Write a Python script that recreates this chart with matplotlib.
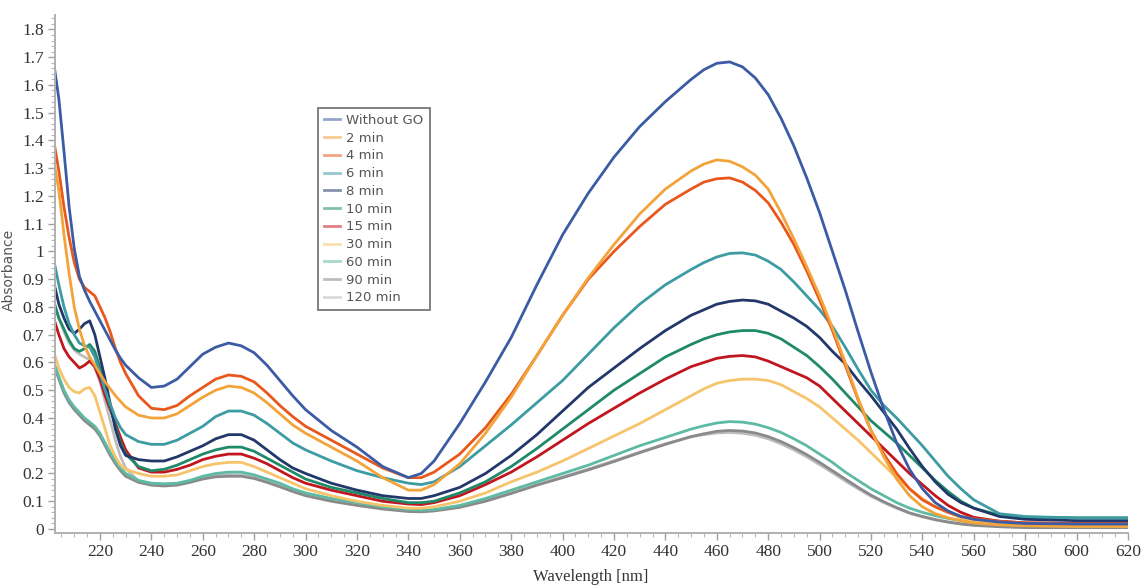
import matplotlib
matplotlib.use("Agg")
import matplotlib.pyplot as plt
from matplotlib.ticker import MultipleLocator, FormatStrFormatter, FuncFormatter

# Wavelength grid (nm) shared by every spectrum
wavelength = [202, 204, 206, 208, 210, 212, 214, 216, 218, 220, 222, 224, 226, 228, 230,
              235, 240, 245, 250, 255, 260, 265, 270, 275, 280, 285, 290, 295, 300,
              310, 320, 330, 340, 345, 350,
              360, 370, 380, 390, 400, 410, 420, 430, 440, 450,
              455, 460, 465, 470, 475, 480, 485, 490, 495, 500, 505, 510, 515, 520,
              525, 530, 535, 540, 545, 550, 555, 560, 570, 580, 600, 620]

labels = ["Without GO", "2 min", "4 min", "6 min", "8 min", "10 min",
          "15 min", "30 min", "60 min", "90 min", "120 min"]

colors = ["#3B5BA5", "#F2A33A", "#E8581C", "#3C9BA3", "#22386A", "#1F8A68",
          "#C2161F", "#F7C46C", "#5DBBA5", "#8A8A8A", "#BDBDBD"]

without_go = [1.68, 1.55, 1.36, 1.16, 1.01, 0.91, 0.86, 0.82, 0.785, 0.75, 0.715, 0.68, 0.645, 0.615, 0.59,
              0.545, 0.51, 0.515, 0.54, 0.585, 0.63, 0.655, 0.67, 0.66, 0.635, 0.59, 0.535, 0.48, 0.43,
              0.355, 0.295, 0.225, 0.185, 0.20, 0.245,
              0.38, 0.53, 0.69, 0.88, 1.06, 1.21, 1.34, 1.45, 1.54, 1.62,
              1.655, 1.678, 1.683, 1.665, 1.625, 1.565, 1.48, 1.38, 1.265, 1.14, 1.00, 0.86, 0.71, 0.565,
              0.43, 0.31, 0.215, 0.145, 0.095, 0.065, 0.045, 0.035, 0.025, 0.02, 0.018, 0.018]

min_2 = [1.33, 1.22, 1.06, 0.92, 0.80, 0.72, 0.66, 0.62, 0.59, 0.56, 0.53, 0.505, 0.48, 0.46, 0.44,
         0.41, 0.40, 0.40, 0.415, 0.445, 0.475, 0.50, 0.515, 0.51, 0.49, 0.455, 0.415, 0.375, 0.345,
         0.295, 0.245, 0.185, 0.14, 0.14, 0.16,
         0.235, 0.345, 0.475, 0.625, 0.77, 0.905, 1.025, 1.135, 1.225, 1.29,
         1.315, 1.33, 1.325, 1.305, 1.275, 1.225, 1.14, 1.045, 0.945, 0.84, 0.725, 0.60, 0.47, 0.355,
         0.26, 0.18, 0.12, 0.08, 0.055, 0.04, 0.03, 0.022, 0.015, 0.012, 0.01, 0.01]

min_4 = [1.40, 1.29, 1.16, 1.05, 0.96, 0.90, 0.87, 0.855, 0.84, 0.80, 0.76, 0.71, 0.65, 0.60, 0.56,
         0.48, 0.435, 0.43, 0.445, 0.48, 0.51, 0.54, 0.555, 0.55, 0.53, 0.49, 0.445, 0.405, 0.37,
         0.32, 0.27, 0.22, 0.185, 0.185, 0.205,
         0.27, 0.365, 0.485, 0.625, 0.77, 0.90, 1.00, 1.09, 1.17, 1.225,
         1.25, 1.262, 1.265, 1.25, 1.22, 1.175, 1.105, 1.025, 0.93, 0.825, 0.715, 0.59, 0.465, 0.355,
         0.27, 0.20, 0.145, 0.105, 0.08, 0.06, 0.045, 0.037, 0.028, 0.022, 0.02, 0.02]

min_6 = [0.97, 0.88, 0.80, 0.74, 0.70, 0.67, 0.66, 0.655, 0.62, 0.56, 0.50, 0.45, 0.40, 0.365, 0.34,
         0.315, 0.305, 0.305, 0.32, 0.345, 0.37, 0.405, 0.425, 0.425, 0.41, 0.38, 0.345, 0.31, 0.285,
         0.245, 0.21, 0.185, 0.165, 0.16, 0.17,
         0.225, 0.30, 0.375, 0.455, 0.535, 0.63, 0.725, 0.81, 0.88, 0.935,
         0.96, 0.98, 0.993, 0.995, 0.987, 0.965, 0.935, 0.89, 0.84, 0.79, 0.73, 0.655, 0.575, 0.50,
         0.445, 0.40, 0.35, 0.30, 0.245, 0.19, 0.145, 0.105, 0.055, 0.045, 0.04, 0.04]

min_8 = [0.89, 0.81, 0.76, 0.72, 0.705, 0.72, 0.74, 0.75, 0.70, 0.62, 0.54, 0.45, 0.36, 0.30, 0.265,
         0.25, 0.245, 0.245, 0.26, 0.28, 0.30, 0.325, 0.34, 0.34, 0.32, 0.285, 0.25, 0.22, 0.20,
         0.165, 0.14, 0.12, 0.11, 0.11, 0.12,
         0.15, 0.20, 0.265, 0.34, 0.425, 0.51, 0.58, 0.65, 0.715, 0.77,
         0.79, 0.81, 0.82, 0.825, 0.822, 0.81, 0.785, 0.76, 0.73, 0.69, 0.64, 0.595, 0.535, 0.48,
         0.42, 0.36, 0.29, 0.225, 0.17, 0.125, 0.095, 0.075, 0.045, 0.035, 0.03, 0.03]

min_10 = [0.82, 0.76, 0.72, 0.68, 0.65, 0.64, 0.65, 0.665, 0.64, 0.58, 0.51, 0.44, 0.37, 0.31, 0.27,
          0.225, 0.21, 0.215, 0.23, 0.25, 0.27, 0.285, 0.295, 0.295, 0.28, 0.255, 0.23, 0.205, 0.18,
          0.15, 0.13, 0.11, 0.095, 0.095, 0.10,
          0.13, 0.17, 0.225, 0.29, 0.36, 0.43, 0.50, 0.56, 0.62, 0.665,
          0.685, 0.70, 0.71, 0.715, 0.715, 0.705, 0.685, 0.655, 0.625, 0.585, 0.54, 0.49, 0.44, 0.39,
          0.35, 0.31, 0.265, 0.22, 0.175, 0.135, 0.10, 0.075, 0.05, 0.042, 0.04, 0.04]

min_15 = [0.76, 0.70, 0.65, 0.62, 0.60, 0.58, 0.59, 0.605, 0.585, 0.54, 0.48, 0.43, 0.38, 0.33, 0.285,
          0.22, 0.205, 0.205, 0.215, 0.23, 0.25, 0.262, 0.27, 0.27, 0.255, 0.235, 0.21, 0.185, 0.165,
          0.14, 0.12, 0.10, 0.09, 0.088, 0.095,
          0.12, 0.16, 0.205, 0.26, 0.32, 0.38, 0.435, 0.49, 0.54, 0.585,
          0.60, 0.615, 0.622, 0.625, 0.62, 0.605, 0.585, 0.565, 0.545, 0.515, 0.47, 0.425, 0.38, 0.335,
          0.29, 0.245, 0.20, 0.16, 0.12, 0.085, 0.06, 0.042, 0.028, 0.022, 0.02, 0.02]

min_30 = [0.64, 0.58, 0.54, 0.51, 0.495, 0.49, 0.505, 0.51, 0.48, 0.42, 0.36, 0.30, 0.26, 0.23, 0.215,
          0.20, 0.19, 0.19, 0.195, 0.21, 0.225, 0.235, 0.24, 0.24, 0.225, 0.205, 0.185, 0.165, 0.145,
          0.12, 0.10, 0.085, 0.075, 0.075, 0.08,
          0.10, 0.13, 0.17, 0.205, 0.245, 0.29, 0.335, 0.38, 0.43, 0.48,
          0.505, 0.525, 0.535, 0.54, 0.54, 0.535, 0.52, 0.495, 0.47, 0.44, 0.40, 0.36, 0.32, 0.275,
          0.23, 0.185, 0.145, 0.11, 0.08, 0.06, 0.04, 0.03, 0.018, 0.012, 0.01, 0.01]

min_60 = [0.60, 0.55, 0.50, 0.465, 0.44, 0.42, 0.40, 0.385, 0.37, 0.345, 0.31, 0.275, 0.245, 0.22, 0.20,
          0.175, 0.165, 0.163, 0.165, 0.175, 0.19, 0.20, 0.205, 0.205, 0.195, 0.18, 0.165, 0.145, 0.13,
          0.11, 0.095, 0.08, 0.07, 0.068, 0.07,
          0.085, 0.11, 0.14, 0.17, 0.20, 0.23, 0.265, 0.30, 0.33, 0.36,
          0.372, 0.382, 0.387, 0.385, 0.378, 0.365, 0.348, 0.325, 0.30, 0.27, 0.24, 0.205, 0.175, 0.145,
          0.12, 0.095, 0.075, 0.06, 0.048, 0.038, 0.03, 0.025, 0.02, 0.018, 0.018, 0.018]

min_90 = [0.59, 0.54, 0.49, 0.455, 0.43, 0.41, 0.39, 0.375, 0.36, 0.335, 0.30, 0.265, 0.235, 0.21, 0.19,
          0.168, 0.158, 0.155, 0.158, 0.168, 0.18, 0.188, 0.19, 0.19, 0.182, 0.168, 0.152, 0.135, 0.12,
          0.10, 0.085, 0.072, 0.063, 0.062, 0.065,
          0.078, 0.10, 0.128, 0.158, 0.185, 0.213, 0.243, 0.275, 0.305, 0.333,
          0.343, 0.352, 0.355, 0.353, 0.346, 0.333, 0.315, 0.293, 0.268, 0.24, 0.21, 0.18, 0.15, 0.122,
          0.098, 0.077, 0.058, 0.045, 0.034, 0.025, 0.018, 0.013, 0.008, 0.005, 0.005, 0.005]

min_120 = [0.82, 0.76, 0.71, 0.67, 0.645, 0.63, 0.62, 0.61, 0.58, 0.53, 0.46, 0.39, 0.32, 0.26, 0.22,
           0.172, 0.163, 0.16, 0.163, 0.173, 0.185, 0.193, 0.196, 0.195, 0.187, 0.172, 0.157, 0.14, 0.125,
           0.104, 0.088, 0.075, 0.066, 0.064, 0.067,
           0.08, 0.102, 0.13, 0.16, 0.188, 0.216, 0.246, 0.277, 0.307, 0.332,
           0.34, 0.346, 0.348, 0.345, 0.338, 0.325, 0.307, 0.285, 0.26, 0.232, 0.203, 0.173, 0.145, 0.118,
           0.095, 0.075, 0.057, 0.044, 0.033, 0.025, 0.019, 0.015, 0.012, 0.01, 0.01, 0.01]

series = [without_go, min_2, min_4, min_6, min_8, min_10,
          min_15, min_30, min_60, min_90, min_120]

W, H = 1141, 585
fig = plt.figure(figsize=(W / 100, H / 100), dpi=100)
ax = fig.add_axes([55 / W, 1 - 533 / H, (1128 - 55) / W, (533 - 15) / H])

# draw the low/grey curves first so the bright ones sit on top
for idx in reversed(range(len(series))):
    ax.plot(wavelength, series[idx], color=colors[idx], lw=2.0,
            solid_capstyle="round", solid_joinstyle="round", zorder=2 + (len(series) - idx) * 0.01)

ax.set_xlim(202.5, 620)
ax.set_ylim(-0.0144, 1.852)

for side in ["top", "right"]:
    ax.spines[side].set_visible(False)
for side in ["left", "bottom"]:
    ax.spines[side].set_color("#b0b0b0")
    ax.spines[side].set_linewidth(1.4)

ax.xaxis.set_major_locator(MultipleLocator(20))
ax.xaxis.set_minor_locator(MultipleLocator(5))
ax.yaxis.set_major_locator(MultipleLocator(0.1))
ax.yaxis.set_minor_locator(MultipleLocator(0.02))
ax.yaxis.set_major_formatter(FuncFormatter(lambda v, p: f"{v:.1f}".rstrip("0").rstrip(".") if abs(v) > 1e-9 else "0"))
ax.xaxis.set_major_formatter(FormatStrFormatter("%d"))

ax.tick_params(which="major", direction="out", length=5, width=1, color="#a0a0a0",
               labelsize=12.5, labelcolor="#333333", pad=3)
ax.tick_params(which="minor", direction="out", length=3, width=0.8, color="#b8b8b8")
for lab in ax.get_xticklabels() + ax.get_yticklabels():
    lab.set_fontfamily("Liberation Serif")

fig.text(591 / W, 1 - 577 / H, "Wavelength [nm]", ha="center", va="center",
         fontsize=12, family="Liberation Serif", color="#333333")
fig.text(9 / W, 1 - 270 / H, "Absorbance", ha="center", va="center", rotation=90,
         fontsize=10, family="DejaVu Sans", color="#555555")

handles = [plt.Line2D([], [], color=c, lw=2, alpha=0.55) for c in colors]
leg = fig.legend(handles, labels, loc="upper left",
                 bbox_to_anchor=(318 / W, 1 - 108 / H), bbox_transform=fig.transFigure,
                 fontsize=9.5, labelspacing=0.36, handlelength=1.2, handletextpad=0.5,
                 borderpad=0.45, borderaxespad=0, fancybox=False, frameon=True)
leg.get_frame().set_edgecolor("#555555")
leg.get_frame().set_linewidth(1.3)
for t in leg.get_texts():
    t.set_color("#555555")

fig.savefig("out.png", dpi=100)
